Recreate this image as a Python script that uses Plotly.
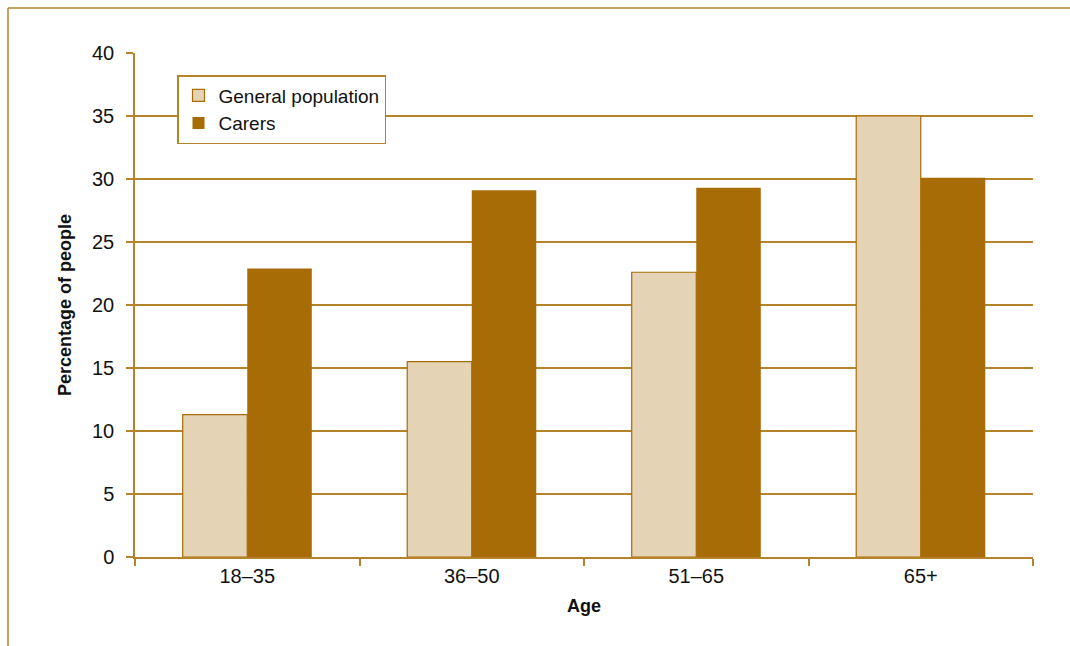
import plotly.graph_objects as go

age_groups = ["18–35", "36–50", "51–65", "65+"]
general_population = [11.3, 15.5, 22.6, 35.0]
carers = [22.9, 29.1, 29.3, 30.1]
y_ticks = [0, 5, 10, 15, 20, 25, 30, 35, 40]

GOLD = "#b5832a"
DARK = "#a76c06"
LIGHT = "#e4d3b5"
FONT = "Liberation Sans, Arial, sans-serif"

fig = go.Figure()
fig.add_trace(go.Bar(
    name="General population", x=age_groups, y=general_population,
    marker=dict(color=LIGHT, line=dict(color=DARK, width=1.2)),
))
fig.add_trace(go.Bar(
    name="Carers", x=age_groups, y=carers,
    marker=dict(color=DARK, line=dict(color=DARK, width=0)),
))

L, R, T, B = 135, 37, 53, 89
W, H = 1070, 646
pw, ph = W - L - R, H - T - B

fig.update_layout(
    width=W, height=H,
    margin=dict(l=L, r=R, t=T, b=B, autoexpand=False),
    paper_bgcolor="white", plot_bgcolor="white",
    barmode="group", bargap=0.425, bargroupgap=0,
    font=dict(family=FONT, size=20, color="#111111"),
    showlegend=True,
    legend=dict(
        x=(177 - L) / pw, y=1 - (75 - T) / ph, xanchor="left", yanchor="top",
        bgcolor="white", bordercolor=GOLD, borderwidth=1.5,
        font=dict(family=FONT, size=19, color="#111111"),
        tracegroupgap=0, itemwidth=30,
    ),
    xaxis=dict(
        showgrid=False, showline=True, linecolor=GOLD, linewidth=1.5,
        ticks="outside", tickson="boundaries", ticklen=7, tickcolor=GOLD, tickwidth=1.5,
        tickfont=dict(family=FONT, size=20),
        title=dict(text="<b>Age</b>", font=dict(family=FONT, size=18), standoff=14),
    ),
    yaxis=dict(
        range=[0, 40], tickvals=y_ticks, showgrid=True, gridcolor=GOLD, gridwidth=1.5,
        showline=True, linecolor=GOLD, linewidth=1.5, zeroline=False,
        ticks="outside", ticklen=7, tickcolor=GOLD, tickwidth=1.5,
        ticklabelstandoff=8,
        tickfont=dict(family=FONT, size=20),
        title=dict(text="<b>Percentage of people</b>", font=dict(family=FONT, size=18), standoff=16),
    ),
    shapes=[
        dict(type="line", xref="paper", yref="paper",
             x0=(8 - L) / pw, x1=(W - L) / pw, y0=1 + (T - 8) / ph, y1=1 + (T - 8) / ph,
             line=dict(color=GOLD, width=1.5)),
        dict(type="line", xref="paper", yref="paper",
             x0=(8 - L) / pw, x1=(8 - L) / pw, y0=1 + (T - 8) / ph, y1=-B / ph,
             line=dict(color=GOLD, width=1.5)),
    ],
)

fig.write_html("out.html")
